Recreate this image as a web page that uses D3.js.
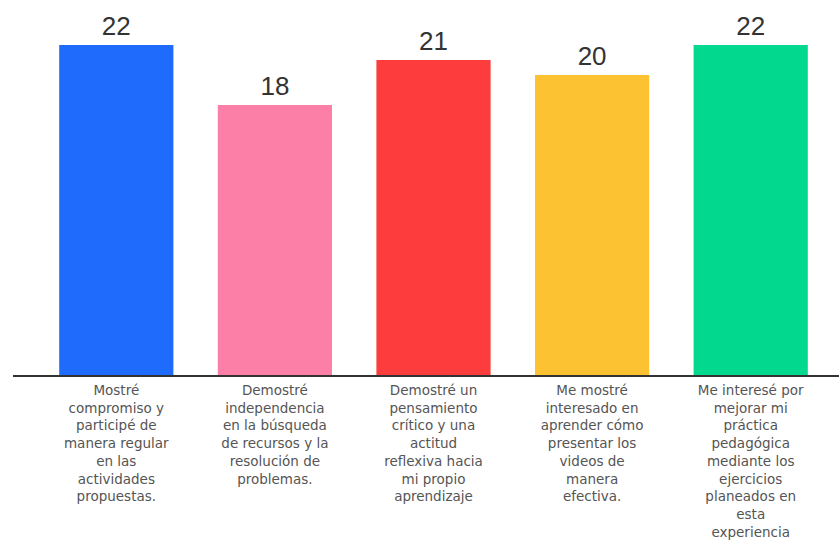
<!DOCTYPE html>
<html>
<head>
<meta charset="utf-8">
<script src="https://cdn.jsdelivr.net/npm/d3@7"></script>
<style>
  body { margin: 0; background: #fff; }
</style>
</head>
<body>
<div id="chart"></div>
<script>
// categorieen (regels gescheiden met \n zoals in het origineel)
var categories = [
    "Mostré\ncompromiso y\nparticipé de\nmanera regular\nen las\nactividades\npropuestas.",
    "Demostré\nindependencia\nen la búsqueda\nde recursos y la\nresolución de\nproblemas.",
    "Demostré un\npensamiento\ncrítico y una\nactitud\nreflexiva hacia\nmi propio\naprendizaje",
    "Me mostré\ninteresado en\naprender cómo\npresentar los\nvideos de\nmanera\nefectiva.",
    "Me interesé por\nmejorar mi\npráctica\npedagógica\nmediante los\nejercicios\nplaneados en\nesta\nexperiencia"
];
var values = [22, 18, 21, 20, 22];
var colors = ["#1f6bfb", "#fc7fa8", "#fd3d3d", "#fcc232", "#03d88f"];

var width = 839, height = 541;
var baseY = 375;

var svg = d3.select("#chart")
    .append("svg")
    .attr("width", width)
    .attr("height", height);

var x = d3.scaleBand()
    .domain(d3.range(categories.length))
    .range([37, 830])
    .paddingInner(0.28)
    .paddingOuter(0.14);

var y = d3.scaleLinear()
    .domain([0, 22])
    .range([baseY, 45]);

// staven
svg.selectAll(".bar")
    .data(values)
    .enter().append("rect")
    .attr("class", "bar")
    .attr("x", (d, i) => x(i))
    .attr("y", d => y(d))
    .attr("width", x.bandwidth())
    .attr("height", d => baseY - y(d))
    .attr("fill", (d, i) => colors[i]);

// waardes boven de staven
svg.selectAll(".val")
    .data(values)
    .enter().append("text")
    .attr("class", "val")
    .attr("x", (d, i) => x(i) + x.bandwidth() / 2)
    .attr("y", d => y(d) - 10)
    .attr("text-anchor", "middle")
    .attr("font-family", "Liberation Sans, Arial, sans-serif")
    .attr("font-size", 26)
    .attr("fill", "#333")
    .text(d => d);

// x-as lijn
svg.append("line")
    .attr("x1", 13)
    .attr("x2", width)
    .attr("y1", baseY + 1)
    .attr("y2", baseY + 1)
    .attr("stroke", "#333")
    .attr("stroke-width", 2);

// labels onder de as
var labels = svg.selectAll(".lab")
    .data(categories)
    .enter().append("text")
    .attr("class", "lab")
    .attr("text-anchor", "middle")
    .attr("font-family", "'DejaVu Sans', sans-serif")
    .attr("font-size", 13.5)
    .attr("fill", "#555")
    .attr("transform", (d, i) => "translate(" + (x(i) + x.bandwidth() / 2) + "," + 395 + ")");

labels.each(function(d) {
    var t = d3.select(this);
    d.split("\n").forEach(function(line, j) {
        t.append("tspan")
            .attr("x", 0)
            .attr("y", j * 17.7)
            .text(line);
    });
});
</script>
</body>
</html>
